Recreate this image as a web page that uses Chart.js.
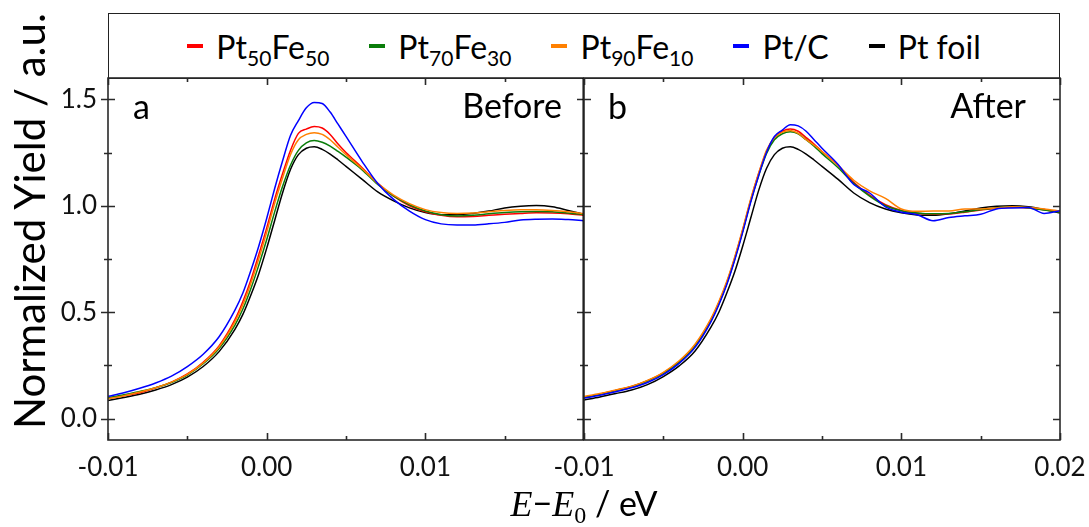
<!DOCTYPE html>
<html>
<head>
<meta charset="utf-8">
<script src="https://cdn.jsdelivr.net/npm/chart.js@4.4.1/dist/chart.umd.min.js"></script>
<style>
    html, body { margin: 0; padding: 0; background: #fff; }
    #fig { position: relative; width: 1089px; height: 527px; overflow: hidden; font-family: Lato, sans-serif; color: #000; }
    .panel { position: absolute; top: 60px; height: 467px; }
    #left { left: 0; width: 584px; }
    #right { left: 540px; width: 549px; }
    #legend {
        position: absolute; left: 108px; top: 13px; width: 952px; height: 66px; box-sizing: border-box;
        border: 1.5px solid #222; display: flex; align-items: center; justify-content: center; font-size: 32px;
    }
    .item { display: flex; align-items: center; margin: 0 20px; white-space: nowrap; }
    .swatch { display: inline-block; width: 16px; height: 4px; margin-right: 13px; }
    .item sub { font-size: 21px; vertical-align: -7px; line-height: 0; }
    #ytitle {
        position: absolute; left: 0; top: 0; white-space: nowrap; font-size: 42px; line-height: 1;
        transform-origin: 0 0; transform: translate(8px, 429px) rotate(-90deg);
    }
    #xtitle { position: absolute; left: 0; width: 1168px; top: 486px; text-align: center; font-size: 34px; line-height: 1; white-space: nowrap; }
    #xtitle i { font-family: "Liberation Serif", serif; font-size: 36px; }
    #xtitle sub { font-family: "Liberation Serif", serif; font-size: 24px; vertical-align: -7px; line-height: 0; }
</style>
</head>
<body>
<div id="fig">
    <div id="legend"></div>
    <div class="panel" id="left"><canvas id="chartBefore"></canvas></div>
    <div class="panel" id="right"><canvas id="chartAfter"></canvas></div>
    <div id="ytitle">Normalized Yield / a.u.</div>
    <div id="xtitle"><i>E</i>−<i>E</i><sub>0</sub> / eV</div>
</div>
<script>
// Energy grid (shared by both panels)
const energy = [
    -0.010, -0.009, -0.008, -0.007, -0.006, -0.005, -0.004, -0.003, -0.002, -0.0015,
    -0.001, -0.0005, 0.000, 0.0005, 0.001, 0.0015, 0.002, 0.0025, 0.003, 0.0035,
    0.004, 0.0045, 0.005, 0.006, 0.007, 0.008, 0.009, 0.010, 0.011, 0.012,
    0.013, 0.014, 0.015, 0.016, 0.017, 0.018, 0.019, 0.020
];

// Panel a: before
const beforePt50Fe50 = [
    0.096, 0.108, 0.122, 0.145, 0.172, 0.210, 0.265, 0.342, 0.465, 0.550,
    0.650, 0.770, 0.895, 1.030, 1.150, 1.260, 1.340, 1.360, 1.372, 1.365,
    1.335, 1.290, 1.250, 1.180, 1.105, 1.045, 1.000, 0.972, 0.955, 0.948,
    0.950, 0.955, 0.960, 0.964, 0.967, 0.966, 0.962, 0.955
];
const beforePt70Fe30 = [
    0.098, 0.112, 0.128, 0.145, 0.170, 0.205, 0.258, 0.330, 0.440, 0.515,
    0.610, 0.720, 0.840, 0.970, 1.090, 1.190, 1.260, 1.295, 1.306, 1.298,
    1.280, 1.255, 1.228, 1.170, 1.100, 1.045, 1.005, 0.975, 0.958, 0.952,
    0.955, 0.962, 0.968, 0.972, 0.973, 0.972, 0.966, 0.958
];
const beforePt90Fe10 = [
    0.093, 0.108, 0.125, 0.145, 0.172, 0.208, 0.262, 0.337, 0.455, 0.535,
    0.635, 0.750, 0.875, 1.010, 1.130, 1.240, 1.310, 1.335, 1.343, 1.335,
    1.310, 1.275, 1.240, 1.175, 1.105, 1.050, 1.010, 0.982, 0.968, 0.964,
    0.966, 0.972, 0.978, 0.981, 0.981, 0.978, 0.972, 0.963
];
const beforePtC = [
    0.105, 0.122, 0.143, 0.168, 0.200, 0.245, 0.303, 0.385, 0.510, 0.590,
    0.695, 0.810, 0.940, 1.080, 1.210, 1.330, 1.400, 1.460, 1.485, 1.480,
    1.440, 1.383, 1.326, 1.210, 1.105, 1.030, 0.975, 0.935, 0.915, 0.910,
    0.910, 0.915, 0.922, 0.933, 0.937, 0.938, 0.935, 0.930
];
const beforePtFoil = [
    0.086, 0.100, 0.115, 0.135, 0.160, 0.195, 0.245, 0.315, 0.420, 0.490,
    0.580, 0.680, 0.800, 0.930, 1.060, 1.170, 1.240, 1.270, 1.277, 1.265,
    1.243, 1.215, 1.185, 1.125, 1.065, 1.023, 0.990, 0.968, 0.958, 0.958,
    0.964, 0.975, 0.990, 0.998, 1.001, 0.995, 0.978, 0.960
];

// Panel b: after
const afterPt50Fe50 = [
    0.100, 0.116, 0.133, 0.151, 0.178, 0.215, 0.268, 0.345, 0.465, 0.545,
    0.640, 0.755, 0.885, 1.025, 1.150, 1.255, 1.320, 1.350, 1.361, 1.350,
    1.320, 1.290, 1.255, 1.190, 1.110, 1.050, 1.005, 0.978, 0.965, 0.960,
    0.962, 0.970, 0.980, 0.988, 0.993, 0.990, 0.982, 0.972
];
const afterPt70Fe30 = [
    0.100, 0.115, 0.132, 0.150, 0.177, 0.213, 0.266, 0.342, 0.460, 0.540,
    0.635, 0.750, 0.880, 1.020, 1.140, 1.245, 1.310, 1.338, 1.347, 1.338,
    1.310, 1.280, 1.245, 1.180, 1.105, 1.045, 1.000, 0.977, 0.966, 0.962,
    0.964, 0.972, 0.982, 0.990, 0.995, 0.990, 0.980, 0.970
];
const afterPt90Fe10 = [
    0.104, 0.118, 0.135, 0.152, 0.180, 0.218, 0.272, 0.350, 0.470, 0.550,
    0.645, 0.760, 0.890, 1.030, 1.150, 1.260, 1.320, 1.345, 1.353, 1.340,
    1.310, 1.285, 1.255, 1.190, 1.120, 1.070, 1.035, 0.985, 0.974, 0.975,
    0.975, 0.985, 0.985, 0.990, 0.995, 0.992, 0.985, 0.975
];
const afterPtC = [
    0.096, 0.110, 0.127, 0.145, 0.170, 0.207, 0.260, 0.335, 0.455, 0.535,
    0.630, 0.745, 0.875, 1.015, 1.140, 1.250, 1.325, 1.355, 1.381, 1.375,
    1.350, 1.310, 1.270, 1.195, 1.100, 1.060, 0.995, 0.970, 0.958, 0.930,
    0.945, 0.953, 0.960, 0.985, 0.990, 0.992, 0.964, 0.977
];
const afterPtFoil = [
    0.088, 0.102, 0.118, 0.135, 0.160, 0.198, 0.248, 0.318, 0.430, 0.500,
    0.590, 0.690, 0.810, 0.940, 1.070, 1.175, 1.240, 1.270, 1.277, 1.265,
    1.243, 1.215, 1.185, 1.125, 1.060, 1.015, 0.985, 0.967, 0.957, 0.955,
    0.962, 0.975, 0.990, 0.998, 1.000, 0.995, 0.982, 0.966
];

// Axis ticks
const xTicks = [-0.01, -0.005, 0.0, 0.005, 0.01, 0.015, 0.02];
const yTicks = [0.0, 0.25, 0.5, 0.75, 1.0, 1.25, 1.5];

const seriesNames = ['Pt<sub>50</sub>Fe<sub>50</sub>', 'Pt<sub>70</sub>Fe<sub>30</sub>', 'Pt<sub>90</sub>Fe<sub>10</sub>', 'Pt/C', 'Pt foil'];
const seriesLabels = ['Pt50Fe50', 'Pt70Fe30', 'Pt90Fe10', 'Pt/C', 'Pt foil'];
const seriesColors = ['#ff0000', '#0a7d0a', '#ff8000', '#0000ff', '#000000'];

const tickFont = { family: 'Lato', size: 26 };

function isMajor(v, step) {
    const r = v / step;
    return Math.abs(r - Math.round(r)) < 1e-6;
}

// legend (HTML, because of the subscripts)
const legendEl = document.getElementById('legend');
seriesNames.forEach((name, i) => {
    const item = document.createElement('span');
    item.className = 'item';
    item.innerHTML = `<span class="swatch" style="background:${seriesColors[i]}"></span><span>${name}</span>`;
    legendEl.appendChild(item);
});

function buildDatasets(series) {
    return series.map((vals, i) => ({
        label: seriesLabels[i],
        data: energy.map((e, k) => ({ x: e, y: vals[k] })),
        borderColor: seriesColors[i],
        borderWidth: 1.5,
        pointRadius: 0,
        fill: false,
        cubicInterpolationMode: 'monotone',
        // draw black first so the coloured curves sit on top of it
        order: i === 4 ? 5 : 4 - i,
    }));
}

// frame, inward ticks and panel captions
const panelFrame = {
    id: 'panelFrame',
    afterDraw(chart, args, opts) {
        const { ctx, chartArea: a, scales: { x, y } } = chart;
        ctx.save();
        ctx.strokeStyle = '#2a2a2a';
        ctx.lineWidth = 1.6;
        ctx.beginPath();
        const seg = (x1, y1, x2, y2) => { ctx.moveTo(x1, y1); ctx.lineTo(x2, y2); };
        x.ticks.forEach((t) => {
            const px = Math.round(x.getPixelForValue(t.value)) + 0.5;
            const len = isMajor(t.value, 0.01) ? 7 : 4;
            seg(px, a.bottom, px, a.bottom - len);
            seg(px, a.top, px, a.top + len);
        });
        y.ticks.forEach((t) => {
            const py = Math.round(y.getPixelForValue(t.value)) + 0.5;
            const len = isMajor(t.value, 0.5) ? 7 : 4;
            seg(a.left + len, py, a.left - (opts.outerLeft ? len : 0), py);
            seg(a.right - len, py, a.right, py);
        });
        ctx.stroke();
        ctx.strokeRect(a.left, a.top, a.right - a.left, a.bottom - a.top);
        if (opts.thickRight) {
            ctx.strokeStyle = '#000';
            ctx.lineWidth = 3;
            ctx.beginPath();
            seg(a.right, a.top, a.right, a.bottom);
            ctx.stroke();
        }
        ctx.fillStyle = '#000';
        ctx.font = '34px Lato';
        ctx.textBaseline = 'middle';
        ctx.textAlign = 'left';
        ctx.fillText(opts.letter, a.left + opts.letterDx, a.top + 30);
        ctx.textAlign = 'right';
        ctx.fillText(opts.note, a.right - opts.noteDx, a.top + 29);
        ctx.restore();
    }
};

function panelOptions(isLeft, letter, note) {
    return {
        responsive: true,
        maintainAspectRatio: false,
        animation: false,
        layout: { padding: { top: 18, right: isLeft ? 0 : 29, left: 0, bottom: 0 } },
        scales: {
            x: {
                type: 'linear',
                min: -0.01,
                max: 0.02,
                grid: { display: false, drawTicks: false },
                border: { display: false },
                afterBuildTicks: (scale) => { scale.ticks = xTicks.map((v) => ({ value: v })); },
                afterFit: (scale) => {
                    scale.height = 87;
                    scale.paddingLeft = 0;
                    scale.paddingRight = 0;
                },
                ticks: {
                    autoSkip: false,
                    maxRotation: 0,
                    padding: 12,
                    color: '#111',
                    font: tickFont,
                    callback: (v) => {
                        if (!isMajor(v, 0.01)) return '';
                        // the left panel's last label is taken by the right panel's first one
                        if (isLeft && v > 0.0199) return '';
                        return v.toFixed(2);
                    },
                },
            },
            y: {
                min: -0.1,
                max: 1.6,
                grid: { display: false, drawTicks: false },
                border: { display: false },
                afterBuildTicks: (scale) => { scale.ticks = yTicks.map((v) => ({ value: v })); },
                afterFit: (scale) => {
                    scale.width = isLeft ? 108 : 44;
                    scale.paddingTop = 0;
                    scale.paddingBottom = 0;
                },
                ticks: {
                    display: isLeft,
                    padding: 11,
                    color: '#111',
                    font: tickFont,
                    callback: (v) => (isMajor(v, 0.5) ? v.toFixed(1) : ''),
                },
            },
        },
        plugins: {
            legend: { display: false },
            tooltip: { enabled: false },
            panelFrame: {
                letter,
                note,
                outerLeft: isLeft,
                thickRight: isLeft,
                letterDx: isLeft ? 25 : 24,
                noteDx: isLeft ? 22 : 34,
            },
        },
    };
}

new Chart(document.getElementById('chartBefore'), {
    type: 'line',
    data: { datasets: buildDatasets([beforePt50Fe50, beforePt70Fe30, beforePt90Fe10, beforePtC, beforePtFoil]) },
    options: panelOptions(true, 'a', 'Before'),
    plugins: [panelFrame],
});

new Chart(document.getElementById('chartAfter'), {
    type: 'line',
    data: { datasets: buildDatasets([afterPt50Fe50, afterPt70Fe30, afterPt90Fe10, afterPtC, afterPtFoil]) },
    options: panelOptions(false, 'b', 'After'),
    plugins: [panelFrame],
});
</script>
</body>
</html>
